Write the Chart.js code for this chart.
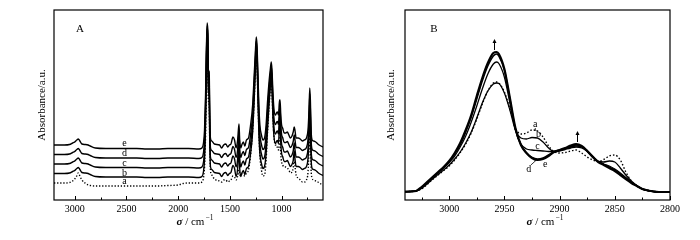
<!DOCTYPE html>
<html>
<head>
<meta charset="utf-8">
<script src="https://cdn.jsdelivr.net/npm/chart.js@4.4.1/dist/chart.umd.min.js"></script>
<style>
  body { margin: 0; background: #fff; }
  #wrap { position: relative; width: 700px; height: 240px; }
  canvas { position: absolute; top: 0; }
</style>
</head>
<body>
<div id="wrap">
  <canvas id="chartA" width="350" height="240" style="left:0"></canvas>
  <canvas id="chartB" width="350" height="240" style="left:350px"></canvas>
</div>
<script>
// ---- panel A: full FTIR spectra, stacked (a.u.) ----
const wnA = [3200, 3100, 3050, 3020, 3000, 2980, 2965, 2950, 2930, 2900,
  2870, 2850, 2800, 2700, 2600, 2500, 2400, 2300, 2200, 2100,
  2000, 1950, 1900, 1800, 1770, 1755, 1745, 1735, 1727, 1720,
  1714, 1708, 1700, 1695, 1688, 1675, 1650, 1600, 1580, 1560,
  1540, 1520, 1505, 1490, 1470, 1455, 1440, 1425, 1412, 1405,
  1395, 1385, 1370, 1355, 1340, 1320, 1300, 1280, 1265, 1255,
  1245, 1238, 1230, 1220, 1210, 1195, 1180, 1165, 1150, 1135,
  1120, 1110, 1100, 1093, 1085, 1075, 1060, 1050, 1040, 1030,
  1020, 1015, 1008, 1000, 990, 975, 960, 945, 930, 915,
  900, 888, 878, 870, 860, 840, 820, 800, 780, 760,
  745, 735, 728, 722, 715, 705, 690, 670, 650, 620,
  600];

const specA_e = [55, 55, 55.5, 57, 58, 60, 61, 59, 56, 55.5,
  55, 54, 52, 51.5, 51.5, 51.5, 51.5, 51, 51, 51.5,
  51.5, 51.5, 51.5, 51, 52, 57, 70, 105, 150, 177,
  170, 130, 128, 90, 62, 59, 56, 55, 52, 55,
  56, 53, 55, 56, 63, 60, 52, 60, 76, 60,
  52, 55, 58, 54, 60, 62, 75, 95, 125, 145,
  163, 155, 130, 95, 75, 65, 60, 62, 75, 100,
  120, 130, 138, 130, 110, 92, 85, 87, 88, 85,
  100, 100, 85, 75, 72, 67, 67, 68, 65, 62,
  64, 68, 73, 69, 62, 62, 61, 59, 60, 62,
  70, 90, 112, 100, 70, 60, 59, 58, 56, 54,
  53];

const specA_d = [45.5, 45.5, 46, 47.5, 48.5, 50.5, 51.5, 49.5, 46.5, 46,
  45.5, 44.5, 42.5, 42, 42, 42, 42, 41.5, 41.5, 42,
  42, 42, 42, 41.5, 42.5, 47.5, 60.5, 96, 144, 174,
  166, 123, 120, 81, 52.5, 49.5, 46.5, 45.5, 42.5, 45.5,
  46.5, 43.5, 45.5, 46.5, 53.5, 50.5, 42.5, 50.5, 68, 50.5,
  42.5, 45.5, 48.5, 44.5, 50.5, 52.5, 65.5, 86, 117, 139,
  159, 150, 122, 86, 65.5, 55.5, 50.5, 52.5, 65.5, 91,
  113, 124, 134, 124, 102, 83, 75.5, 77.5, 78.5, 75.5,
  92, 92, 75.5, 65.5, 62.5, 57.5, 57.5, 58.5, 55.5, 52.5,
  54.5, 58.5, 65, 59.5, 52.5, 52.5, 51.5, 49.5, 50.5, 52.5,
  60.5, 81, 106, 91, 60.5, 50.5, 49.5, 48.5, 46.5, 44.5,
  43.5];

const specA_c = [36, 36, 36.5, 38, 39, 41, 42, 40, 37, 36.5,
  36, 35, 33, 32.5, 32.5, 32.5, 32.5, 32, 32, 32.5,
  32.5, 32.5, 32.5, 32, 33, 38, 51, 87, 138, 171,
  162, 116, 112, 72, 43, 40, 37, 36, 33, 36,
  37, 34, 36, 37, 44, 41, 33, 41, 60, 41,
  33, 36, 39, 35, 41, 43, 56, 77, 109, 133,
  155, 145, 114, 77, 56, 46, 41, 43, 56, 82,
  106, 118, 130, 118, 94, 74, 66, 68, 69, 66,
  84, 84, 66, 56, 53, 48, 48, 49, 46, 43,
  45, 49, 57, 50, 43, 43, 42, 40, 41, 43,
  51, 72, 100, 82, 51, 41, 40, 39, 37, 35,
  34];

const specA_b = [26.5, 26.5, 27, 28.5, 29.5, 31.5, 32.5, 30.5, 27.5, 27,
  26.5, 25.5, 23.5, 23, 23, 23, 23, 22.5, 22.5, 23,
  23, 23, 23, 22.5, 23.5, 28.5, 41.5, 78, 132, 168,
  158, 109, 104, 63, 33.5, 30.5, 27.5, 26.5, 23.5, 26.5,
  27.5, 24.5, 26.5, 27.5, 34.5, 31.5, 23.5, 31.5, 52, 31.5,
  23.5, 26.5, 29.5, 25.5, 31.5, 33.5, 46.5, 68, 101, 127,
  151, 140, 106, 68, 46.5, 36.5, 31.5, 33.5, 46.5, 73,
  99, 112, 126, 112, 86, 65, 56.5, 58.5, 59.5, 56.5,
  76, 76, 56.5, 46.5, 43.5, 38.5, 38.5, 39.5, 36.5, 33.5,
  35.5, 39.5, 49, 40.5, 33.5, 33.5, 32.5, 30.5, 31.5, 33.5,
  41.5, 63, 94, 73, 41.5, 31.5, 30.5, 29.5, 27.5, 25.5,
  24.5];

const specA_a = [17, 17, 17.5, 19, 21, 24, 27, 24, 20, 17,
  15, 14.5, 14, 14, 14, 14, 14, 14, 14, 14.5,
  15, 16.5, 17, 17, 18, 22, 33, 65, 110, 140,
  135, 100, 95, 60, 30, 25, 21, 19, 18, 20,
  20, 18, 19, 20, 24, 23, 20, 24, 30, 26,
  24, 26, 25, 24, 27, 30, 45, 70, 100, 125,
  140, 135, 105, 70, 45, 30, 24, 25, 40, 70,
  95, 110, 115, 108, 85, 65, 55, 55, 52, 50,
  62, 60, 45, 38, 35, 33, 33, 32, 30, 27,
  28, 32, 40, 33, 25, 22, 20, 18, 18, 20,
  28, 50, 70, 58, 30, 22, 20, 19, 18, 16,
  15];

const ticksA = [3000, 2500, 2000, 1500, 1000];
const minorA = [2750, 2250, 1750, 1250, 750];

// ---- panel B: C-H stretching region ----
const wnB = [3040, 3035, 3030, 3025, 3020, 3015, 3010, 3005, 3000, 2995,
  2990, 2985, 2980, 2975, 2970, 2965, 2960, 2957, 2955, 2950,
  2945, 2940, 2935, 2930, 2925, 2920, 2915, 2910, 2905, 2900,
  2895, 2890, 2885, 2880, 2875, 2870, 2865, 2860, 2855, 2850,
  2845, 2840, 2835, 2830, 2825, 2820, 2815, 2810, 2805, 2800];

const specB_e = [8.3, 8.5, 9, 13, 18, 23, 28, 33, 39, 47,
  57, 70, 85, 104, 122, 137, 147, 148, 146, 131,
  102, 72, 55, 47, 42, 40, 41, 44, 48, 50,
  52, 54.5, 56, 54, 49, 43, 38, 35, 32, 29,
  25, 21, 17, 14, 11, 9.5, 8.5, 8, 8, 8];

const specB_d = [8.3, 8.5, 9, 12.5, 17.5, 22.5, 27.5, 32.5, 38, 46,
  55, 68, 83, 101, 119, 134, 144, 146, 144, 130,
  101, 71, 55, 47, 42.5, 41, 42, 45, 48.5, 50,
  51.5, 53.5, 55, 53.5, 49, 43.5, 38.5, 35.5, 33, 30,
  26, 22, 17.5, 14, 11, 9.5, 8.5, 8, 8, 8];

const specB_c = [8.3, 8.5, 9, 12.5, 17, 22, 27, 32, 37.5, 44,
  53, 64, 78, 94, 111, 126, 136, 138, 136.5, 123,
  97, 70, 56, 51, 50, 49.5, 49, 48.5, 48.5, 49.5,
  51, 53, 54, 53, 49.5, 44, 38.5, 36, 34, 31,
  27, 22.5, 18, 14, 11, 9.5, 8.5, 8, 8, 8];

const specB_b = [8.3, 8.5, 9, 11.5, 16, 21, 25.5, 30, 35, 41,
  48, 57, 68, 82, 97, 109, 116, 117, 116.5, 107,
  90, 70, 62, 61, 62.5, 62, 58, 52, 48.5, 49,
  50.5, 52, 53, 52, 48.5, 43, 38.5, 38, 39, 38,
  32, 25, 19, 14.5, 11, 9.5, 8.5, 8, 8, 8];

const specB_a = [8.3, 8.5, 9, 11, 15.5, 20.5, 25, 29.5, 34, 40,
  47.5, 56, 67, 81, 96, 109, 117, 118, 117, 108,
  91, 72, 66, 67, 70, 69, 63, 54, 48.5, 47,
  47.5, 49, 50, 47, 43, 40, 38.5, 40.5, 44, 45,
  40, 28, 19, 14, 11, 9.5, 8.5, 8, 8, 8];

const ticksB = [3000, 2950, 2900, 2850, 2800];
const minorB = [3025, 2975, 2925, 2875, 2825];

const serif = '"Liberation Serif", "Times New Roman", serif';

function pts(xs, ys) {
  return xs.map((x, i) => ({ x: x, y: ys[i] }));
}

// frame box, inward ticks, letters, curve labels, arrows and the x title
const frameAndNotes = {
  id: 'frameAndNotes',
  afterDatasetsDraw(chart, args, o) {
    const { ctx, chartArea: ca, scales: { x, y } } = chart;
    ctx.save();
    ctx.strokeStyle = '#000';
    ctx.fillStyle = '#000';
    ctx.lineWidth = 1.2;
    ctx.strokeRect(ca.left, ca.top, ca.right - ca.left, ca.bottom - ca.top);

    ctx.lineWidth = 1;
    const tick = (v, len) => {
      const px = Math.round(x.getPixelForValue(v)) + 0.5;
      ctx.beginPath();
      ctx.moveTo(px, ca.bottom);
      ctx.lineTo(px, ca.bottom - len);
      ctx.stroke();
    };
    o.major.forEach(v => tick(v, 4));
    o.minor.forEach(v => tick(v, 2.5));

    ctx.textAlign = 'center';
    ctx.textBaseline = 'middle';
    ctx.font = '11px ' + serif;
    ctx.fillText(o.panel, ca.left + o.panelDx, ca.top + 19);

    ctx.font = '10px ' + serif;
    o.notes.forEach(n => {
      ctx.fillText(n.t, x.getPixelForValue(n.x), y.getPixelForValue(n.y));
    });

    ctx.lineWidth = 0.8;
    (o.leaders || []).forEach(l => {
      ctx.beginPath();
      ctx.moveTo(x.getPixelForValue(l[0]), y.getPixelForValue(l[1]));
      ctx.lineTo(x.getPixelForValue(l[2]), y.getPixelForValue(l[3]));
      ctx.stroke();
    });

    ctx.lineWidth = 1;
    (o.arrows || []).forEach(a => {
      const px = Math.round(x.getPixelForValue(a.x)) + 0.5;
      const y0 = y.getPixelForValue(a.from);
      const y1 = y.getPixelForValue(a.to);
      ctx.beginPath();
      ctx.moveTo(px, y0);
      ctx.lineTo(px, y1 + 2);
      ctx.stroke();
      ctx.beginPath();
      ctx.moveTo(px, y1 - 1);
      ctx.lineTo(px - 2, y1 + 3);
      ctx.lineTo(px + 2, y1 + 3);
      ctx.closePath();
      ctx.fill();
    });

    // x title: sigma / cm^-1
    let tx = (ca.left + ca.right) / 2 - o.titleShift;
    const ty = ca.bottom + 25;
    ctx.textAlign = 'left';
    ctx.textBaseline = 'alphabetic';
    ctx.font = 'italic bold 11px ' + serif;
    ctx.fillText('σ', tx, ty);
    tx += ctx.measureText('σ').width;
    ctx.font = '11px ' + serif;
    ctx.fillText(' / cm', tx, ty);
    tx += ctx.measureText(' / cm').width + 1;
    ctx.font = '7.5px ' + serif;
    ctx.fillText('−1', tx, ty - 5);
    ctx.restore();
  }
};

function makePanel(id, p) {
  const lineSets = p.series.map(s => ({
    label: s.label,
    data: pts(p.wn, s.data),
    borderColor: '#000',
    borderWidth: s.width,
    borderDash: s.dash || [],
    pointRadius: 0,
    fill: false,
    cubicInterpolationMode: 'monotone'
  }));

  return new Chart(document.getElementById(id), {
    type: 'line',
    data: { datasets: lineSets },
    options: {
      responsive: false,
      animation: false,
      layout: { padding: { top: 10, right: p.padRight, left: 0, bottom: 0 } },
      plugins: {
        legend: { display: false },
        tooltip: { enabled: false },
        frameAndNotes: p.notes
      },
      scales: {
        x: {
          type: 'linear',
          reverse: true,
          min: p.min,
          max: p.max,
          afterBuildTicks: s => { s.ticks = p.ticks.map(v => ({ value: v })); },
          afterFit: s => { s.height = 40; },
          grid: { display: false, drawTicks: false },
          border: { display: false },
          ticks: {
            color: '#000',
            padding: 3,
            maxRotation: 0,
            font: { family: serif, size: 10 },
            callback: v => String(v)
          }
        },
        y: {
          min: 0,
          max: 190,
          afterFit: s => { s.width = p.yWidth; },
          grid: { display: false, drawTicks: false },
          border: { display: false },
          ticks: { display: false },
          title: {
            display: true,
            text: 'Absorbance/a.u.',
            color: '#000',
            font: { family: serif, size: 11 },
            padding: { top: p.titlePad, bottom: 0 }
          }
        }
      }
    },
    plugins: [frameAndNotes]
  });
}

makePanel('chartA', {
  wn: wnA, min: 600, max: 3200, ticks: ticksA, padRight: 27, yWidth: 54, titlePad: 36,
  series: [
    { label: 'e', data: specA_e, width: 1.4 },
    { label: 'd', data: specA_d, width: 1.4 },
    { label: 'c', data: specA_c, width: 1.4 },
    { label: 'b', data: specA_b, width: 1.4 },
    { label: 'a', data: specA_a, width: 1.4, dash: [1.3, 1.8] }
  ],
  notes: {
    major: ticksA, minor: minorA, panel: 'A', panelDx: 26, titleShift: 12,
    notes: [
      { t: 'e', x: 2518, y: 57 },
      { t: 'd', x: 2518, y: 46.5 },
      { t: 'c', x: 2518, y: 37 },
      { t: 'b', x: 2518, y: 27 },
      { t: 'a', x: 2518, y: 19 }
    ]
  }
});

makePanel('chartB', {
  wn: wnB, min: 2800, max: 3040, ticks: ticksB, padRight: 30, yWidth: 55, titlePad: 35,
  series: [
    { label: 'e', data: specB_e, width: 2.2 },
    { label: 'd', data: specB_d, width: 1.5 },
    { label: 'c', data: specB_c, width: 1.3 },
    { label: 'b', data: specB_b, width: 1.3 },
    { label: 'a', data: specB_a, width: 1.4, dash: [1.5, 2] }
  ],
  notes: {
    major: ticksB, minor: minorB, panel: 'B', panelDx: 29, titleShift: 11,
    notes: [
      { t: 'a', x: 2922, y: 76 },
      { t: 'b', x: 2919, y: 66 },
      { t: 'c', x: 2920, y: 54 },
      { t: 'd', x: 2928, y: 31 },
      { t: 'e', x: 2913, y: 36 }
    ],
    leaders: [
      [2922, 72, 2922, 69],
      [2926, 35, 2921, 40]
    ],
    arrows: [
      { x: 2959, from: 150, to: 160 },
      { x: 2884, from: 58, to: 68 }
    ]
  }
});
</script>
</body>
</html>
